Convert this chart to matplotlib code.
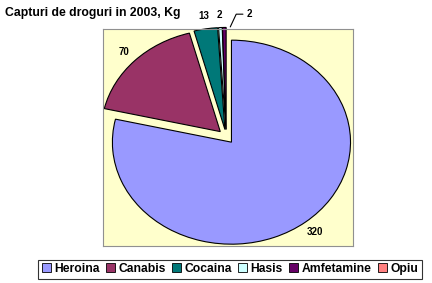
import numpy as np
import matplotlib.pyplot as plt
from matplotlib.patches import Patch

plt.rcParams['font.family'] = ['Liberation Sans', 'DejaVu Sans']

# values (kg)
drugs = ['Heroina', 'Canabis', 'Cocaina', 'Hasis', 'Amfetamine', 'Opiu']
kg = [320, 70, 13, 2, 2, 0]
colors = ['#9999FF', '#993366', '#007878', '#CCFFFF', '#660066', '#FF8080']

fig = plt.figure(figsize=(4.32, 2.83), dpi=100)
ax = fig.add_axes([0.238, 0.131, 0.579, 0.767])
ax.set_facecolor('#FFFFCC')

# zero slices get no wedge, only a legend entry
shown = [i for i, v in enumerate(kg) if v > 0]
wedges, _ = ax.pie([kg[i] for i in shown],
                   colors=[colors[i] for i in shown],
                   explode=[0.07] * len(shown),
                   startangle=90, counterclock=False,
                   wedgeprops=dict(edgecolor='black', linewidth=0.8),
                   frame=True)
ax.set_aspect('auto')
ax.set_xlim(-1.037, 1.064)
ax.set_ylim(-1.072, 1.056)
ax.set_xticks([])
ax.set_yticks([])
for s in ax.spines.values():
    s.set_color('#909090')
    s.set_linewidth(0.8)

# data labels
for w, i in zip(wedges, shown):
    th = np.deg2rad((w.theta1 + w.theta2) / 2)
    x, y = 1.195 * np.cos(th), 1.195 * np.sin(th)
    if drugs[i] == 'Amfetamine':
        ax.annotate(str(kg[i]), xy=(0.05 + np.cos(th) * 1.07, 1.075),
                    xytext=(0.175, 1.2), fontsize=7, fontweight='bold',
                    ha='left', va='center', annotation_clip=False,
                    arrowprops=dict(arrowstyle='-', lw=0.8, color='black',
                                    shrinkA=1, shrinkB=0,
                                    connectionstyle='angle,angleA=0,angleB=65,rad=0'))
    else:
        ax.text(x, y, str(kg[i]), fontsize=7, fontweight='bold',
                ha='center', va='center', clip_on=False)

fig.text(0.012, 0.975, 'Capturi de droguri in 2003, Kg', fontsize=8.8,
         fontweight='bold', ha='left', va='top')

handles = [Patch(facecolor=c, edgecolor='black', linewidth=0.6) for c in colors]
leg = fig.legend(handles, drugs, loc='center', bbox_to_anchor=(0.532, 0.049),
                 ncol=6, frameon=True, fancybox=False,
                 prop=dict(weight='bold', size=8.7),
                 handlelength=0.75, handleheight=0.75, handletextpad=0.25,
                 columnspacing=0.55, borderpad=0.3, borderaxespad=0)
leg.get_frame().set_edgecolor('black')
leg.get_frame().set_linewidth(0.8)

fig.savefig('out.png', dpi=100)
